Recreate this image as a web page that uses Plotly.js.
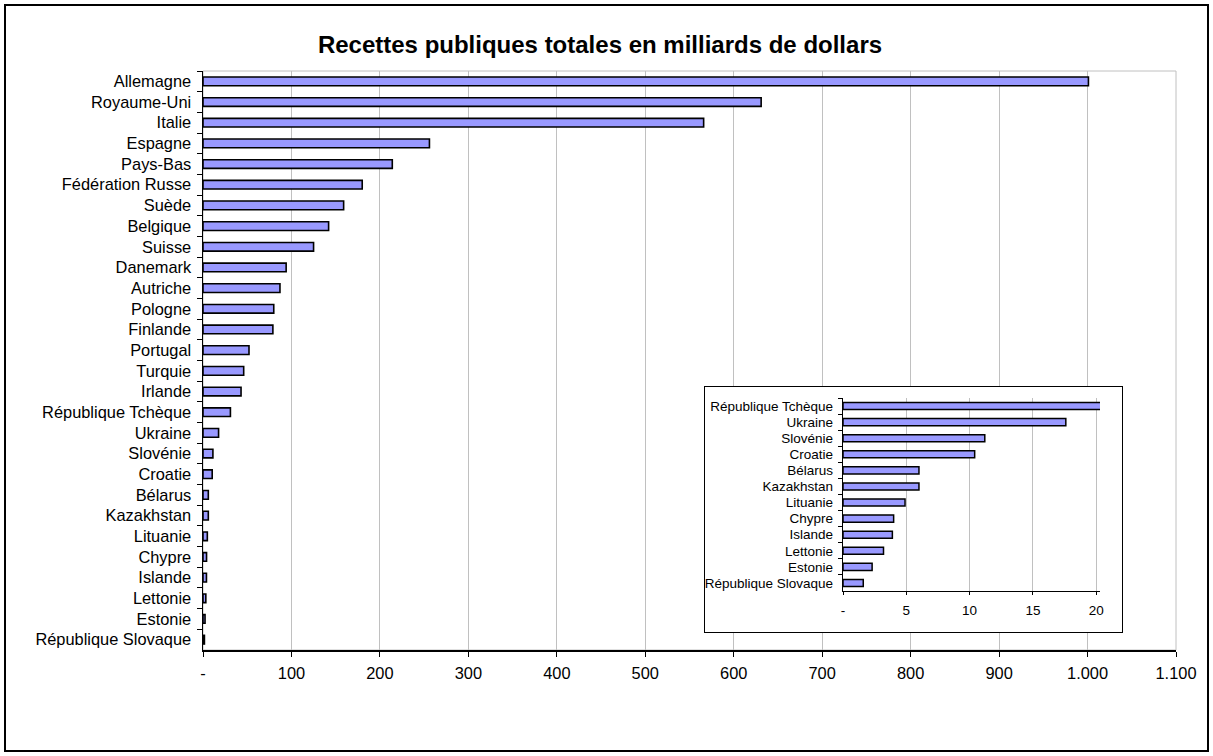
<!DOCTYPE html>
<html>
<head>
<meta charset="utf-8">
<script src="https://cdn.plot.ly/plotly-3.0.1.min.js"></script>
<style>
  html, body { margin: 0; padding: 0; background: #fff; }
  #wrap { position: relative; width: 1213px; height: 756px; overflow: hidden; }
  #main { position: absolute; left: 0; top: 0; width: 1213px; height: 756px; }
  #inset { position: absolute; left: 704px; top: 386px; width: 419px; height: 247px;
           border: 1px solid #000; box-sizing: border-box; background: #fff; }
  #frame { position: absolute; left: 4px; top: 4px; width: 1205px; height: 748px;
           border: 2px solid #000; box-sizing: border-box; pointer-events: none; }
</style>
</head>
<body>
<div id="wrap">
  <div id="main"></div>
  <div id="inset"></div>
  <div id="frame"></div>
</div>
<script>
// ---- data ----
const countries = [
  "Allemagne", "Royaume-Uni", "Italie", "Espagne", "Pays-Bas", "Fédération Russe",
  "Suède", "Belgique", "Suisse", "Danemark", "Autriche", "Pologne", "Finlande",
  "Portugal", "Turquie", "Irlande", "République Tchèque", "Ukraine", "Slovénie",
  "Croatie", "Bélarus", "Kazakhstan", "Lituanie", "Chypre", "Islande", "Lettonie",
  "Estonie", "République Slovaque"
];
const revenues = [
  1001, 631, 566, 256, 214, 180,
  159, 142, 125, 94, 87, 80, 79,
  52, 46, 43, 31, 17.6, 11.2,
  10.4, 6.0, 6.0, 4.9, 4.0, 3.9, 3.2,
  2.3, 1.6
];
const mainTickVals = [0, 100, 200, 300, 400, 500, 600, 700, 800, 900, 1000, 1100];
const mainTickText = ["-", "100", "200", "300", "400", "500", "600", "700", "800", "900", "1.000", "1.100"];
const insetFirst = "République Tchèque";
const insetTickVals = [0, 5, 10, 15, 20];
const insetTickText = ["-", "5", "10", "15", "20"];
const titleText = "Recettes publiques totales en milliards de dollars";

// ---- styling ----
const FONT = "'Liberation Sans', Arial, Helvetica, sans-serif";
const BAR_FILL = "#9999FF";
const GRID = "#c0c0c0";

const mainTrace = {
  type: "bar", orientation: "h",
  x: revenues, y: countries,
  marker: { color: BAR_FILL, line: { color: "#000", width: 1.6 } },
  hoverinfo: "none"
};

const mainLayout = {
  width: 1213, height: 756,
  margin: { l: 203, r: 37, t: 71, b: 106, pad: 0 },
  paper_bgcolor: "rgba(0,0,0,0)", plot_bgcolor: "#fff",
  font: { family: FONT, size: 16.4, color: "#000" },
  showlegend: false,
  bargap: 0.58,
  title: {
    text: titleText,
    font: { family: FONT, size: 24, weight: 700, color: "#000" },
    xref: "container", yref: "container",
    x: 600 / 1213, xanchor: "center",
    y: 1 - 45 / 756, yanchor: "middle"
  },
  xaxis: {
    range: [0, 1100], fixedrange: true,
    tickmode: "array", tickvals: mainTickVals, ticktext: mainTickText,
    ticks: "outside", ticklen: 5, tickwidth: 1, tickcolor: "#000",
    ticklabelstandoff: 3,
    showline: true, linecolor: "#000", linewidth: 1.5,
    showgrid: true, gridcolor: GRID, gridwidth: 1,
    zeroline: false
  },
  yaxis: {
    type: "category", autorange: "reversed", fixedrange: true,
    ticks: "outside", tickson: "boundaries", ticklen: 5, tickwidth: 1, tickcolor: "#000",
    ticklabelstandoff: 7,
    showline: true, linecolor: "#000", linewidth: 1.5,
    showgrid: false, zeroline: false
  },
  shapes: [{
    type: "rect", xref: "paper", yref: "paper", x0: 0, x1: 1, y0: 0, y1: 1,
    line: { color: GRID, width: 1 }, layer: "below"
  }]
};

const startIdx = countries.indexOf(insetFirst);
const insetCountries = countries.slice(startIdx);
const insetValues = revenues.slice(startIdx);

const insetTrace = {
  type: "bar", orientation: "h",
  x: insetValues, y: insetCountries,
  marker: { color: BAR_FILL, line: { color: "#000", width: 1.5 } },
  hoverinfo: "none"
};

const insetLayout = {
  width: 417, height: 245,
  margin: { l: 138, r: 22, t: 11, b: 41, pad: 0 },
  paper_bgcolor: "#fff", plot_bgcolor: "#fff",
  font: { family: FONT, size: 13.5, color: "#000" },
  showlegend: false,
  bargap: 0.56,
  xaxis: {
    range: [0, 20.3], fixedrange: true,
    tickmode: "array", tickvals: insetTickVals, ticktext: insetTickText,
    ticks: "outside", ticklen: 3, tickwidth: 1, tickcolor: "#000",
    ticklabelstandoff: 4,
    showline: true, linecolor: "#000", linewidth: 1.2,
    showgrid: true, gridcolor: GRID, gridwidth: 1,
    zeroline: false
  },
  yaxis: {
    type: "category", autorange: "reversed", fixedrange: true,
    ticks: "outside", tickson: "boundaries", ticklen: 4, tickwidth: 1, tickcolor: "#000",
    ticklabelstandoff: 6,
    showline: true, linecolor: "#000", linewidth: 1.2,
    showgrid: false, zeroline: false
  }
};

const cfg = { displayModeBar: false, staticPlot: true };
Plotly.newPlot("main", [mainTrace], mainLayout, cfg);
Plotly.newPlot("inset", [insetTrace], insetLayout, cfg);
</script>
</body>
</html>
